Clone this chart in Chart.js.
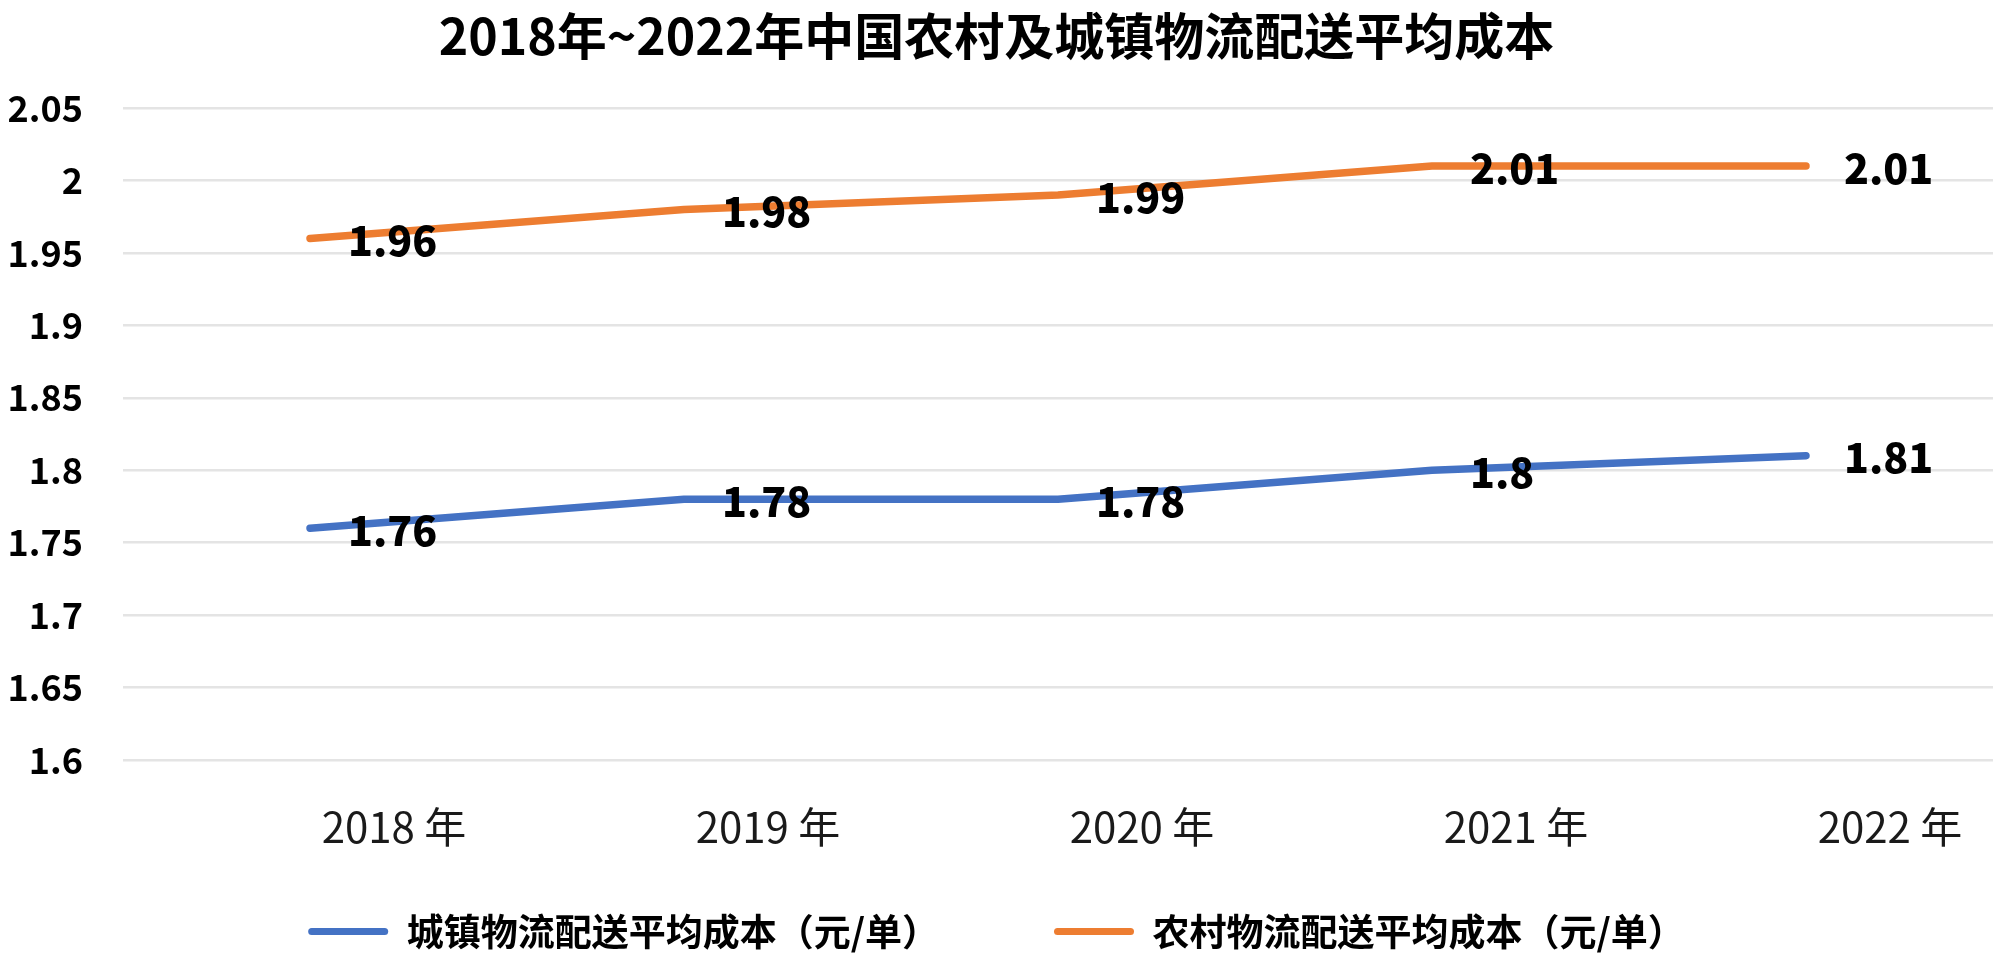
<!DOCTYPE html>
<html>
<head>
<meta charset="utf-8">
<title>2018年~2022年中国农村及城镇物流配送平均成本</title>
<script src="https://cdn.jsdelivr.net/npm/chart.js@4.4.1/dist/chart.umd.min.js"></script>
<style>
  html, body { margin: 0; padding: 0; background: #fff; }
  #wrap { width: 2000px; height: 963px; position: relative; }
</style>
</head>
<body>
<div id="wrap"><canvas id="lineChart"></canvas></div>
<script>
const years = ["2018 年", "2019 年", "2020 年", "2021 年", "2022 年"];
const urbanCost = [1.76, 1.78, 1.78, 1.8, 1.81];
const ruralCost = [1.96, 1.98, 1.99, 2.01, 2.01];
const seriesNames = ["城镇物流配送平均成本（元/单）", "农村物流配送平均成本（元/单）"];
const yMin = 1.6;
const yMax = 2.05;
const yStep = 0.05;

const fontFamily = "'Noto Sans CJK SC', 'Noto Sans', sans-serif";
const blue = "#4472C4";
const orange = "#ED7D31";

// value labels to the right of each point
const pointLabels = {
  id: "pointLabels",
  afterDatasetsDraw(chart) {
    const ctx = chart.ctx;
    ctx.save();
    ctx.font = "900 41px " + fontFamily;
    ctx.fillStyle = "#000";
    ctx.textAlign = "left";
    ctx.textBaseline = "middle";
    chart.data.datasets.forEach((ds, i) => {
      chart.getDatasetMeta(i).data.forEach((pt, j) => {
        ctx.fillText(String(ds.data[j]), pt.x + 38, pt.y + 2);
      });
    });
    ctx.restore();
  },
};

function drawChart() {
  let ctx = document.getElementById("lineChart").getContext("2d");
  new Chart(ctx, {
    type: "line",
    data: {
      labels: years,
      datasets: [
        {
          label: seriesNames[0],
          data: urbanCost,
          borderColor: blue,
          backgroundColor: blue,
          borderWidth: 7.5,
          borderCapStyle: "round",
          borderJoinStyle: "round",
          pointRadius: 0,
          tension: 0,
          fill: false,
        },
        {
          label: seriesNames[1],
          data: ruralCost,
          borderColor: orange,
          backgroundColor: orange,
          borderWidth: 7.5,
          borderCapStyle: "round",
          borderJoinStyle: "round",
          pointRadius: 0,
          tension: 0,
          fill: false,
        },
      ],
    },
    options: {
      responsive: true,
      maintainAspectRatio: false,
      devicePixelRatio: 1,
      animation: false,
      layout: { padding: { left: 0, right: 7, top: 0, bottom: 3 } },
      plugins: {
        title: {
          display: true,
          text: "2018年~2022年中国农村及城镇物流配送平均成本",
          color: "#000",
          font: { family: fontFamily, size: 50, weight: "bold", lineHeight: 1.2 },
          padding: { top: 6, bottom: 42 },
        },
        legend: {
          position: "bottom",
          labels: {
            color: "#000",
            font: { family: fontFamily, size: 37, weight: "bold" },
            boxWidth: 80,
            boxHeight: 7,
            padding: 115,
            useBorderRadius: true,
            borderRadius: 3.5,
            generateLabels: (chart) =>
              Chart.defaults.plugins.legend.labels
                .generateLabels(chart)
                .map((l) => Object.assign(l, { lineWidth: 0, fillStyle: l.strokeStyle })),
          },
        },
        tooltip: { enabled: false },
      },
      scales: {
        x: {
          offset: true,
          grid: { display: false, drawTicks: false },
          border: { display: false },
          ticks: {
            color: "#1a1a1a",
            font: { family: fontFamily, size: 42 },
            // mirrored so the labels are not clipped to the shortened axis box
            mirror: true,
            padding: -92,
            labelOffset: 84,
            maxRotation: 0,
            autoSkip: false,
          },
          afterFit: (scale) => {
            scale.height = 38;
          },
        },
        y: {
          min: yMin,
          max: yMax,
          grid: { color: "#e4e4e4", lineWidth: 2.5, drawTicks: false },
          border: { display: false },
          ticks: {
            stepSize: yStep,
            color: "#000",
            font: { family: fontFamily, size: 36, weight: "bold" },
            padding: 40,
            callback: (v) => String(Number(v.toFixed(2))),
          },
          afterFit: (scale) => {
            scale.width = 123;
          },
        },
      },
    },
    plugins: [pointLabels],
  });
}

Promise.all([
  document.fonts.load("bold 40px 'Noto Sans CJK SC'"),
  document.fonts.load("40px 'Noto Sans CJK SC'"),
])
  .catch(() => null)
  .then(drawChart);
</script>
</body>
</html>
